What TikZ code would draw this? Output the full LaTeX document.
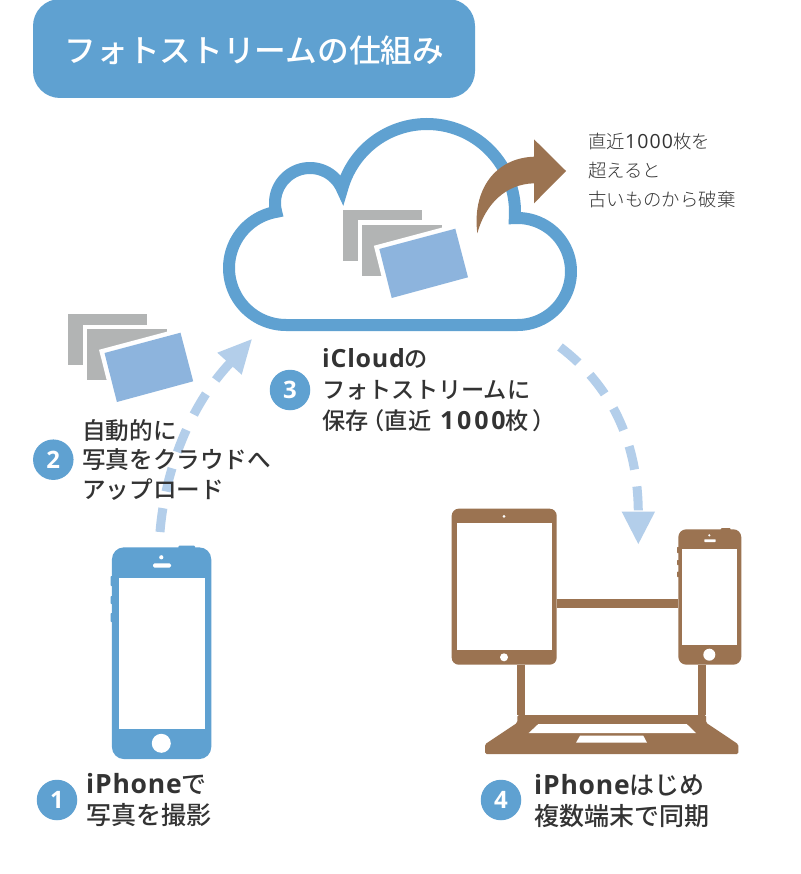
\documentclass[tikz,border=0pt]{standalone}
\usepackage{fontspec}
\setmainfont{Noto Sans CJK JP}
\newfontfamily\med[UprightFont=* Medium,BoldFont=* Bold]{Noto Sans CJK JP}
\newfontfamily\lightf[UprightFont=* Light]{Noto Sans CJK JP}
\newfontfamily\latb[LetterSpace=3]{Open Sans}
\newfontfamily\latc[LetterSpace=11]{Open Sans}
\newfontfamily\latn[LetterSpace=6]{Open Sans}
\newcommand{\wordb}[2][26.5]{{\latb\bfseries\fontsize{#1}{31}\selectfont #2}}
\usetikzlibrary{calc}
\definecolor{cblue}{HTML}{5FA1D1}
\definecolor{pblue}{HTML}{8DB4DD}
\definecolor{lblue}{HTML}{B3CEEA}
\definecolor{cgray}{HTML}{B2B4B4}
\definecolor{cbrown}{HTML}{9B7351}
\definecolor{ctext}{HTML}{333333}
\tikzset{
  bodybox/.style={rounded corners=#1,inner sep=0pt,outer sep=0pt},
  stepnum/.style={circle,fill=cblue,text=white,inner sep=0pt,minimum size=40.5pt,font=\latb\bfseries\fontsize{24}{24}\selectfont},
  steptext/.style={anchor=north west,align=left,inner sep=0pt,text=ctext},
  flow/.style={lblue,line width=9pt,dash pattern=on 24pt off 17pt},
  flowhead/.style={fill=lblue},
  link/.style={fill=cbrown},
  photogray/.style={fill=cgray},
}
\newcommand{\photostack}{%
  \fill[photogray] (343,210) rectangle (422,261);
  \draw[white,line width=9pt] (362,225) rectangle (441.7,276);
  \fill[photogray] (362,225) rectangle (441.7,276);
  \draw[white,line width=9pt,line join=miter] (379.3,249) -- (455.3,228.7) -- (468,277.3) -- (391.7,298) -- cycle;
  \fill[pblue] (379.3,249) -- (455.3,228.7) -- (468,277.3) -- (391.7,298) -- cycle;
}
\begin{document}
\begin{tikzpicture}[x=1pt,y=-1pt]
\useasboundingbox (0,0) rectangle (800,874);
\fill[white] (0,0) rectangle (800,874);
% title
\path[clip] (0,0) rectangle (800,874);
\fill[cblue,rounded corners=27pt] (33,-1) rectangle (475,98);
\node[text=white,font=\fontsize{31.7}{32}\selectfont\med] (title) at (254.5,50) {フォトストリームの仕組み};

% flow arrows (endpoints)
\coordinate (upstart) at (160,532);
\coordinate (upend) at (231,362);
\coordinate (upl) at (217.3,352.7);
\coordinate (upr) at (241.7,374.7);
\coordinate (uptip) at (251.7,339.3);
\draw[flow] (upstart) .. controls (165,470) and (190,405) .. (upend);
\fill[flowhead] (upl) -- (uptip) -- (upr) -- cycle;
\coordinate (downstart) at (560,347);
\coordinate (downend) at (638.3,513);
\draw[flow] (downstart) .. controls (610,385) and (638,440) .. (downend);
\coordinate (dl) at (621.7,511.7);
\coordinate (dr) at (655,511.7);
\coordinate (dtip) at (638.3,544);
\fill[flowhead] (dl) -- (dtip) -- (dr) -- cycle;

% cloud
\draw[cblue,line width=12pt,line join=miter,miter limit=10]
  plot[domain=90:257,samples=50] ({286+57*cos(\x)},{268+57*sin(\x)})
  -- (276.15,211.86)
  -- plot[domain=168:333,samples=50] ({310+35*cos(\x)},{203+35*sin(\x)})
  -- (342.06,188.98)
  -- plot[domain=198:361,samples=60] ({427+88*cos(\x)},{212+88*sin(\x)})
  -- (514.8,218.1)
  -- plot[domain=270:450,samples=60] ({517.5+53.5*cos(\x)},{271.5+53.5*sin(\x)})
  -- cycle;
\photostack
\begin{scope}[shift={(-274.8,104)}]
\photostack
\end{scope}
% brown arrow
\fill[cbrown] (477.3,233.3) .. controls (472,190) and (495,158) .. (534,156.7)
  -- (534,139.3) -- (566,171) -- (534,203.3) -- (534,183.3)
  .. controls (505,184) and (485,205) .. (477.3,233.3) -- cycle;
\node[steptext,text=ctext,font=\fontsize{18.4}{29}\selectfont\lightf] (note) at (588,133) {直近{\latn\fontsize{19.5}{29}\selectfont 1000}枚を\\超えると\\古いものから破棄};

% iPhone blue
\node[bodybox=12pt,fill=cblue,minimum width=99.3pt,minimum height=211.7pt] (iphone) at (161.6,653.2) {};
\fill[cblue,rounded corners=1pt] (178.3,545.7) rectangle (195,550);
\fill[cblue,rounded corners=0.7pt] (110.7,576) rectangle (114,586);
\fill[cblue,rounded corners=0.7pt] (110.7,596) rectangle (114,604);
\fill[cblue,rounded corners=0.7pt] (110.7,613) rectangle (114,622);
\fill[white] (119,578) rectangle (204.7,728.7);
\fill[white] (161.3,743.3) circle (9.5);
\fill[white] (161.3,557.3) circle (2.1);
\fill[white,rounded corners=1.5pt] (153,563.3) rectangle (171,567.7);

% devices
\node[bodybox=7pt,fill=cbrown,minimum width=105pt,minimum height=156pt] (tablet) at (504.2,586.7) {};
\node[bodybox=8pt,fill=cbrown,minimum width=63pt,minimum height=135.4pt] (phone) at (709.8,597) {};
\coordinate (ca) at (tablet.east |- 0,603.2);
\coordinate (cb) at (phone.west |- 0,603.2);
\draw[cbrown,line width=9pt] (ca) -- (cb);
\coordinate (la) at (521.3,715);
\coordinate (lb) at (702,715);
\draw[cbrown,line width=8pt] (tablet.south -| la) -- (la);
\draw[cbrown,line width=8pt] (phone.south -| lb) -- (lb);
\fill[white] (457,523.3) rectangle (551.7,649.7);
\fill[white] (504,657.3) circle (4);
\fill[white] (504,516.3) circle (1.5);
\fill[white] (682.3,548.7) rectangle (737,645.3);
\fill[white] (709.3,654.7) circle (6);
\fill[white] (709.3,535.3) circle (1.2);
\fill[white,rounded corners=.6pt] (704.3,539.3) rectangle (715.7,542);
\fill[cbrown,rounded corners=1pt] (720.7,528.2) rectangle (730.7,532);
\fill[cbrown,rounded corners=.6pt] (677,547) rectangle (680,553);
\fill[cbrown,rounded corners=.6pt] (677,560) rectangle (680,565);
\fill[cbrown,rounded corners=.6pt] (677,571.7) rectangle (680,577);
% laptop
\fill[link,rounded corners=1.5pt] (517.3,715) -- (706,715) -- (706,722.7) -- (738.3,744.3) -- (738.3,754) -- (485,754) -- (485,744.3) -- (517.3,722.7) -- cycle;
\fill[white] (538.3,724) -- (686.7,724) -- (696,733) -- (528.7,733) -- cycle;
\fill[white] (580,735.7) -- (643.3,735.7) -- (647,742.7) -- (576,742.7) -- cycle;

% steps
\node[stepnum] (n1) at (57,800) {1};
\node[stepnum] (n2) at (53.3,459.7) {2};
\node[stepnum] (n3) at (290,390) {3};
\node[stepnum] (n4) at (501,800) {4};
\node[steptext,font=\fontsize{25}{31}\selectfont\med] (t1) at (86,773) {\wordb{iPhone}で\\写真を撮影};
\node[steptext,font=\fontsize{23.6}{29.5}\selectfont\med] (t2) at (82,419) {自動的に\\写真をクラウドへ\\アップロード};
\node[steptext,font=\fontsize{23.2}{31}\selectfont\med] (t3) at (322,348) {\wordb[25]{iCloud}の\\フォトストリームに\\保存\hspace{-7pt}（直近\hspace{9pt}{\latc\bfseries\fontsize{25}{31}\selectfont 1000}枚\hspace{4pt}）};
\node[steptext,font=\fontsize{25}{31}\selectfont\med] (t4) at (534,774) {\wordb{iPhone}はじめ\\複数端末で同期};
\end{tikzpicture}
\end{document}
